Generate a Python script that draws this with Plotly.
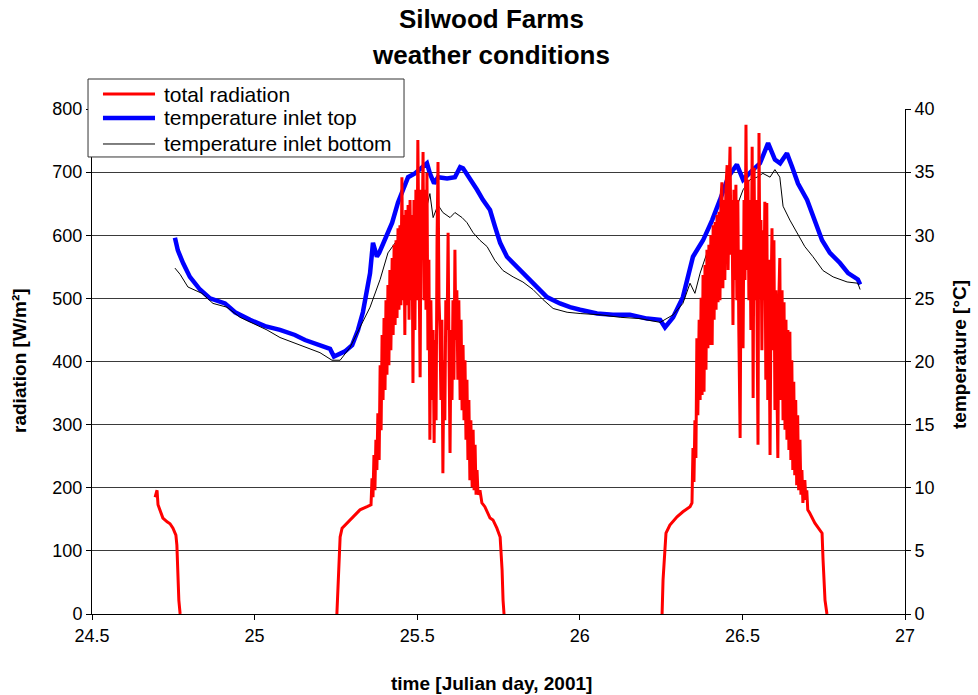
import plotly.graph_objects as go

# ---------------- data ----------------
x_ticks = [24.5, 25, 25.5, 26, 26.5, 27]
x_ticklabels = ["24.5", "25", "25.5", "26", "26.5", "27"]
rad_ticks = [0, 100, 200, 300, 400, 500, 600, 700, 800]
temp_ticks = [0, 5, 10, 15, 20, 25, 30, 35, 40]
series_names = ["total radiation", "temperature inlet top", "temperature inlet bottom"]

# total radiation [W/m2] (evening of day 24)
rad_d0_t = [24.694, 24.697, 24.700, 24.703, 24.709, 24.718, 24.731, 24.740, 24.749,
            24.758, 24.761, 24.764, 24.767, 24.771]
rad_d0_v = [185, 193, 196, 173, 165, 152, 146, 143, 136, 125, 109, 70, 22, 0]

# day 25
rad_d1_t = [25.253, 25.256, 25.263, 25.269, 25.284, 25.303, 25.324, 25.346, 25.358,
            25.361, 25.364, 25.367, 25.370, 25.373, 25.376, 25.379, 25.383, 25.386, 25.389,
            25.392, 25.395, 25.398, 25.401, 25.404, 25.407, 25.410, 25.413, 25.416, 25.419,
            25.423, 25.426, 25.429, 25.432, 25.435, 25.438, 25.441, 25.444, 25.447, 25.450,
            25.453, 25.456, 25.459, 25.462, 25.465, 25.469, 25.472, 25.475, 25.478, 25.481,
            25.484, 25.487, 25.490, 25.493, 25.496, 25.499, 25.502, 25.505, 25.509, 25.512,
            25.515, 25.518, 25.521, 25.524, 25.527, 25.530, 25.533, 25.536, 25.539, 25.542,
            25.546, 25.549, 25.552, 25.555, 25.558, 25.561, 25.564, 25.567, 25.570, 25.573,
            25.576, 25.579, 25.582, 25.585, 25.588, 25.592, 25.595, 25.598, 25.601, 25.604,
            25.607, 25.610, 25.613, 25.616, 25.619, 25.622, 25.625, 25.628, 25.632, 25.635,
            25.638, 25.641, 25.644, 25.647, 25.650, 25.653, 25.656, 25.659, 25.662, 25.665,
            25.669, 25.672, 25.675, 25.678, 25.681, 25.684, 25.687,
            25.693, 25.699, 25.708, 25.724, 25.733, 25.745, 25.755, 25.761, 25.764, 25.767]
rad_d1_v = [0, 38, 122, 136, 144, 154, 165, 170, 173,
            215, 185, 252, 196, 276, 228, 318, 244, 394, 291,
            442, 339, 469, 355, 497, 379, 521, 394, 545, 418,
            564, 442, 585, 458, 592, 469, 611, 482, 616, 489,
            692, 497, 632, 442, 640, 489, 648, 466, 656, 497,
            632, 366, 656, 450, 672, 497, 751, 529, 375, 672,
            577, 732, 497, 672, 482, 699, 418, 561, 276, 497,
            339, 450, 271, 434, 307, 592, 716, 497, 450, 339,
            466, 223, 402, 307, 497, 450, 604, 402, 255, 450,
            339, 497, 371, 577, 434, 513, 371, 497, 339, 466,
            323, 426, 307, 402, 276, 371, 244, 339, 212, 307,
            201, 292, 196, 268, 189, 228, 189,
            196, 176, 170, 152, 149, 136, 122, 70, 22, 0]

# day 26
rad_d2_t = [26.253, 26.256, 26.265, 26.277, 26.299, 26.317, 26.339,
            26.345, 26.348, 26.351, 26.354, 26.357, 26.360, 26.363, 26.367, 26.370, 26.373,
            26.376, 26.379, 26.382, 26.385, 26.388, 26.391, 26.394, 26.397, 26.400, 26.403,
            26.407, 26.410, 26.413, 26.416, 26.419, 26.422, 26.425, 26.428, 26.431, 26.434,
            26.437, 26.440, 26.443, 26.446, 26.449, 26.453, 26.456, 26.459, 26.462, 26.465,
            26.468, 26.471, 26.474, 26.477, 26.480, 26.483, 26.486, 26.489, 26.493, 26.496,
            26.499, 26.502, 26.505, 26.508, 26.511, 26.514, 26.517, 26.520, 26.523, 26.526,
            26.530, 26.533, 26.536, 26.539, 26.542, 26.545, 26.548, 26.551, 26.554, 26.557,
            26.560, 26.563, 26.566, 26.569, 26.572, 26.575, 26.578, 26.581, 26.585, 26.588,
            26.591, 26.594, 26.597, 26.600, 26.603, 26.606, 26.609, 26.612, 26.615, 26.618,
            26.622, 26.625, 26.628, 26.631, 26.634, 26.637, 26.640, 26.643, 26.646, 26.649,
            26.652, 26.655, 26.658, 26.661, 26.664, 26.667, 26.670, 26.673, 26.677, 26.680,
            26.683, 26.686,
            26.692, 26.695, 26.698, 26.701, 26.707, 26.723, 26.745, 26.748, 26.754, 26.760]
rad_d2_v = [0, 54, 128, 141, 154, 162, 170,
            176, 263, 209, 307, 247, 437, 315, 466, 339, 501,
            347, 537, 352, 553, 387, 577, 421, 585, 426, 600,
            426, 616, 466, 621, 482, 632, 494, 637, 497, 656,
            684, 516, 656, 529, 672, 711, 545, 672, 740, 569,
            656, 458, 672, 529, 680, 497, 656, 450, 279, 577,
            497, 421, 656, 529, 775, 545, 688, 497, 656, 450,
            740, 342, 707, 497, 656, 418, 268, 762, 529, 624,
            418, 608, 497, 653, 371, 651, 339, 561, 252, 497,
            611, 418, 592, 323, 513, 371, 247, 497, 564, 339,
            513, 307, 494, 292, 466, 276, 450, 260, 447, 244,
            402, 228, 368, 220, 339, 204, 315, 196, 276, 189,
            228, 176,
            212, 181, 196, 165, 160, 144, 128, 86, 22, 0]

# temperature inlet top [°C]
top_t = [24.755, 24.764, 24.780, 24.801, 24.832, 24.863, 24.909, 24.940, 24.986, 25.032,
         25.078, 25.124, 25.155, 25.201, 25.232, 25.244, 25.263, 25.278, 25.300, 25.318,
         25.333, 25.355, 25.364, 25.376, 25.383, 25.401, 25.423, 25.441, 25.456, 25.472,
         25.493, 25.515, 25.530, 25.539, 25.552, 25.564, 25.592, 25.616, 25.632, 25.641,
         25.662, 25.684, 25.702, 25.724, 25.739, 25.755, 25.776, 25.807, 25.838, 25.868,
         25.899, 25.939, 25.970, 26.001, 26.053, 26.102, 26.154, 26.207, 26.247, 26.262,
         26.287, 26.317, 26.348, 26.379, 26.407, 26.431, 26.456, 26.483, 26.502, 26.533,
         26.554, 26.579, 26.600, 26.616, 26.637, 26.653, 26.671, 26.699, 26.723, 26.745,
         26.769, 26.800, 26.825, 26.855, 26.862]
top_v = [29.8, 28.8, 27.8, 26.7, 25.7, 25.0, 24.6, 23.9, 23.3, 22.8,
         22.5, 22.1, 21.7, 21.3, 21.0, 20.4, 20.6, 20.8, 21.3, 22.5,
         23.9, 27.0, 29.4, 28.3, 28.6, 29.6, 31.0, 32.6, 33.6, 34.6,
         34.9, 35.4, 35.7, 34.9, 34.1, 34.6, 34.5, 34.6, 35.4, 35.3,
         34.5, 33.6, 32.8, 32.0, 30.7, 29.4, 28.3, 27.5, 26.7, 25.9,
         25.1, 24.6, 24.3, 24.1, 23.8, 23.7, 23.7, 23.4, 23.3, 22.7,
         23.5, 25.1, 28.3, 29.6, 31.2, 32.8, 34.6, 35.6, 34.4, 35.2,
         35.7, 37.3, 36.0, 35.7, 36.5, 35.4, 34.1, 32.8, 31.2, 29.6,
         28.6, 27.8, 27.0, 26.5, 26.1]

# temperature inlet bottom [°C]
bot_t = [24.755, 24.771, 24.795, 24.838, 24.872, 24.915, 24.955, 24.995, 25.038, 25.078,
         25.118, 25.161, 25.201, 25.238, 25.263, 25.293, 25.324, 25.355, 25.386, 25.410,
         25.438, 25.469, 25.493, 25.515, 25.530, 25.539, 25.549, 25.564, 25.579, 25.601,
         25.616, 25.638, 25.653, 25.672, 25.693, 25.715, 25.739, 25.764, 25.795, 25.825,
         25.856, 25.887, 25.918, 25.961, 26.001, 26.062, 26.124, 26.185, 26.247, 26.287,
         26.317, 26.339, 26.354, 26.370, 26.391, 26.407, 26.425, 26.440, 26.468, 26.483,
         26.502, 26.523, 26.545, 26.563, 26.585, 26.600, 26.615, 26.625, 26.646, 26.667,
         26.692, 26.717, 26.748, 26.779, 26.822, 26.855, 26.862]
bot_v = [27.4, 26.9, 25.9, 25.4, 24.6, 24.3, 23.5, 23.0, 22.5, 21.9,
         21.5, 21.1, 20.7, 20.1, 20.1, 21.1, 22.7, 24.3, 26.5, 28.6,
         29.6, 30.4, 31.2, 31.8, 32.3, 33.3, 31.4, 32.4, 31.8, 31.4,
         31.8, 31.4, 31.0, 30.2, 29.6, 29.1, 28.0, 27.2, 26.7, 26.3,
         25.7, 24.9, 24.2, 23.9, 23.8, 23.7, 23.5, 23.4, 23.1, 23.7,
         24.6, 26.2, 25.4, 27.0, 28.6, 29.4, 29.9, 31.0, 31.8, 32.3,
         33.6, 34.4, 34.6, 34.9, 34.6, 35.2, 34.6, 32.3, 31.2, 30.2,
         29.1, 28.3, 27.2, 26.7, 26.3, 26.2, 25.7]

# ---------------- figure ----------------
FONT = "Liberation Sans, Arial, sans-serif"
COLORS = ["#FF0000", "#0000FF", "#000000"]
WIDTHS = [3, 4.5, 1]

rad_t = rad_d0_t + [None] + rad_d1_t + [None] + rad_d2_t
rad_v = rad_d0_v + [None] + rad_d1_v + [None] + rad_d2_v

fig = go.Figure()
fig.add_trace(go.Scatter(x=top_t, y=top_v, mode="lines", name=series_names[1],
                         line=dict(color=COLORS[1], width=WIDTHS[1]), xaxis="x", yaxis="y"))
fig.add_trace(go.Scatter(x=bot_t, y=bot_v, mode="lines", name=series_names[2],
                         line=dict(color=COLORS[2], width=WIDTHS[2]), xaxis="x", yaxis="y"))
fig.add_trace(go.Scatter(x=rad_t, y=rad_v, mode="lines", name=series_names[0],
                         line=dict(color=COLORS[0], width=WIDTHS[0]), connectgaps=False,
                         xaxis="x", yaxis="y2"))

tickfont = dict(family=FONT, size=18, color="black")

fig.update_layout(
    width=978, height=695, autosize=False,
    margin=dict(l=92, r=73, t=109, b=81),
    paper_bgcolor="white", plot_bgcolor="white",
    font=dict(family=FONT, size=18, color="black"),
    showlegend=False,
    xaxis=dict(range=[24.5, 27], tickvals=x_ticks, ticktext=x_ticklabels,
               ticks="outside", ticklen=5, tickcolor="black", showline=True,
               linecolor="black", linewidth=1, showgrid=False, zeroline=False,
               tickfont=tickfont, anchor="y"),
    xaxis2=dict(range=[24.5, 27], overlaying="x", tickvals=x_ticks, ticks="inside",
                ticklen=5, tickcolor="black", showticklabels=False, showline=False,
                showgrid=False, zeroline=False, anchor="y", side="bottom"),
    yaxis=dict(range=[0, 40], tickvals=temp_ticks, side="right", ticks="outside",
               ticklen=5, tickcolor="black", showline=True, linecolor="black",
               linewidth=1, showgrid=False, zeroline=False, tickfont=tickfont,
               anchor="x"),
    yaxis2=dict(range=[0, 800], tickvals=rad_ticks, overlaying="y", side="left",
                ticks="outside", ticklen=5, tickcolor="black", showline=True,
                linecolor="black", linewidth=1, showgrid=True, gridcolor="#3a3a3a",
                gridwidth=1, zeroline=False, tickfont=tickfont, anchor="x"),
    yaxis3=dict(range=[0, 800], tickvals=rad_ticks, overlaying="y", side="left",
                ticks="inside", ticklen=5, tickcolor="black", showticklabels=False,
                showline=False, showgrid=False, zeroline=False, anchor="x"),
    yaxis4=dict(range=[0, 40], tickvals=temp_ticks, overlaying="y", side="right",
                ticks="inside", ticklen=5, tickcolor="black", showticklabels=False,
                showline=False, showgrid=False, zeroline=False, anchor="x"),
)

# ---- legend box (drawn manually for Excel-like compact spacing) ----
fig.add_shape(type="rect", xref="paper", yref="paper", x0=-0.0049, x1=0.3838,
              y0=0.905, y1=1.0594, fillcolor="white", line=dict(color="#333333", width=1),
              layer="above")
leg_rows = [1.0297, 0.9822, 0.9307]
for name, col, w, yy in zip(series_names, COLORS, WIDTHS, leg_rows):
    fig.add_shape(type="line", xref="paper", yref="paper", x0=0.0135, x1=0.0775,
                  y0=yy, y1=yy, line=dict(color=col, width=w), layer="above")
    fig.add_annotation(text=name, x=0.0861, y=yy, xref="paper", yref="paper",
                       xanchor="left", yanchor="middle", showarrow=False,
                       font=dict(family=FONT, size=21, color="black"))

ann = dict(showarrow=False, xref="paper", yref="paper")
fig.add_annotation(text="<b>Silwood Farms</b>", x=0.491, y=1.178, xanchor="center",
                   yanchor="middle", font=dict(family=FONT, size=26, color="black"), **ann)
fig.add_annotation(text="<b>weather conditions</b>", x=0.491, y=1.107, xanchor="center",
                   yanchor="middle", font=dict(family=FONT, size=26, color="black"), **ann)
fig.add_annotation(text="<b>time [Julian day, 2001]</b>", x=0.492, y=-0.137,
                   xanchor="center", yanchor="middle",
                   font=dict(family=FONT, size=19, color="black"), **ann)
fig.add_annotation(text="<b>radiation [W/m²]</b>", x=-0.0886, y=0.503, textangle=-90,
                   xanchor="center", yanchor="middle",
                   font=dict(family=FONT, size=19, color="black"), **ann)
fig.add_annotation(text="<b>temperature [°C]</b>", x=1.0677, y=0.513, textangle=-90,
                   xanchor="center", yanchor="middle",
                   font=dict(family=FONT, size=19, color="black"), **ann)

fig.write_html("out.html")
